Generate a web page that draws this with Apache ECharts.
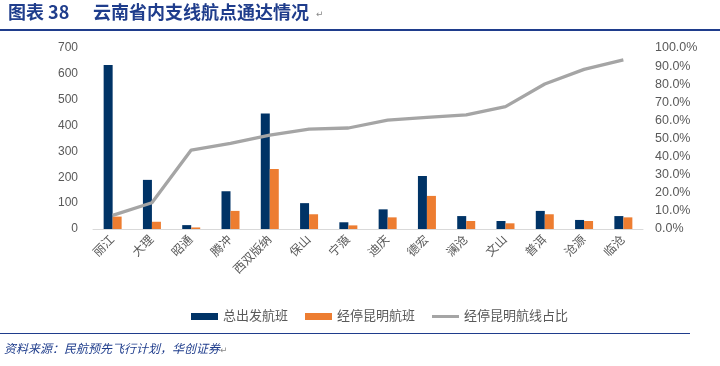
<!DOCTYPE html>
<html><head><meta charset="utf-8">
<script src="https://cdn.jsdelivr.net/npm/echarts@6/dist/echarts.min.js"></script>
<style>html,body{margin:0;padding:0;background:#fff}#c{width:720px;height:366px}</style>
</head><body><div id="c"></div>
<script>
var categories = ['丽江','大理','昭通','腾冲','西双版纳','保山','宁蒗','迪庆','德宏','澜沧','文山','普洱','沧源','临沧'];
var totalFlights = [634,190,15,146,447,100,26,76,205,50,31,70,35,50];
var kunmingFlights = [48,28,6,70,232,57,14,45,128,31,22,57,31,45];
var kunmingShare = [0.075,0.145,0.436,0.473,0.519,0.552,0.558,0.602,0.617,0.630,0.676,0.801,0.882,0.934];
var leftTicks = {min:0,max:700,interval:100};
var rightTicks = {min:0,max:1,interval:0.1};
var seriesNames = ['总出发航班','经停昆明航班','经停昆明航线占比'];
var titleText = '图表 38';
var titleText2 = '云南省内支线航点通达情况';
var sourceText = '资料来源：民航预先飞行计划，华创证券';

var chart = echarts.init(document.getElementById('c'));
var font = 'Arial, "Liberation Sans", "Noto Sans CJK SC", sans-serif';
chart.setOption({
  animation:false,
  textStyle:{fontFamily:font},
  grid:{left:93,right:77,top:48,bottom:137},
  legend:{
    left:186, top:305, itemWidth:27, itemHeight:7, itemGap:17,
    textStyle:{color:'#595959',fontSize:13,fontFamily:font},
    data:[{name:seriesNames[0],icon:'rect'},{name:seriesNames[1],icon:'rect'},{name:seriesNames[2],icon:'path://M0,0 L27,0 L27,3 L0,3 Z'}]
  },
  xAxis:{
    type:'category', data:categories,
    axisLine:{lineStyle:{color:'#D9D9D9'}},
    axisTick:{show:false},
    axisLabel:{rotate:45,color:'#595959',fontSize:12,margin:9,interval:0}
  },
  yAxis:[{
    type:'value', min:leftTicks.min, max:leftTicks.max, interval:leftTicks.interval,
    splitLine:{show:false}, axisLine:{show:false}, axisTick:{show:false},
    axisLabel:{color:'#595959',fontSize:12,margin:15}
  },{
    type:'value', min:rightTicks.min, max:rightTicks.max, interval:rightTicks.interval,
    splitLine:{show:false}, axisLine:{show:false}, axisTick:{show:false},
    axisLabel:{color:'#595959',fontSize:12.5,margin:12,formatter:function(v){return (v*100).toFixed(1)+'%';}}
  }],
  series:[
    {name:seriesNames[0],type:'bar',data:totalFlights,barWidth:9,barGap:'0%',itemStyle:{color:'#003366'}},
    {name:seriesNames[1],type:'bar',data:kunmingFlights,barWidth:9,itemStyle:{color:'#ED7D31'}},
    {name:seriesNames[2],type:'line',yAxisIndex:1,data:kunmingShare,symbol:'none',lineStyle:{color:'#A5A5A5',width:3.3},itemStyle:{color:'#A5A5A5'}}
  ],
  graphic:[
    {type:'text',left:8,top:3,style:{text:titleText,fill:'#1F3D8C',font:'bold 18px "Noto Sans CJK SC", serif'}},
    {type:'text',left:93,top:3,style:{text:titleText2,fill:'#1F3D8C',font:'bold 18px "Noto Sans CJK SC", serif'}},
    {type:'text',left:316,top:10,style:{text:'↵',fill:'#888',font:'9px "DejaVu Sans"'}},
    {type:'rect',shape:{x:0,y:29,width:720,height:2},style:{fill:'#1F3D8C'}},
    {type:'rect',shape:{x:0,y:333,width:690,height:1},style:{fill:'#1F3D8C'}},
    {type:'text',left:4,top:342,style:{text:sourceText,fill:'#1F3D8C',font:'italic 12px "Noto Sans CJK SC", serif'}},
    {type:'text',left:220,top:346,style:{text:'↵',fill:'#888',font:'9px "DejaVu Sans"'}}
  ]
});
</script></body></html>
